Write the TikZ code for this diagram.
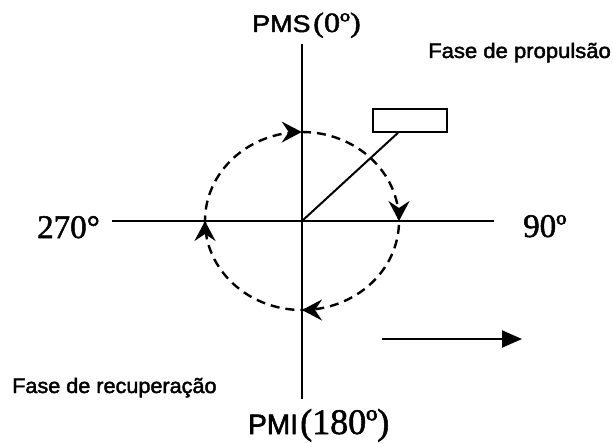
\documentclass[tikz,border=0pt]{standalone}
\usepackage{fontspec}
\setmainfont{Liberation Serif}
\setsansfont{Liberation Sans}
\newfontfamily\crkheavysans{Liberation Sans}[FakeBold=2]
\newfontfamily\crkheavyserif{Liberation Serif}[FakeBold=1.5]
\usetikzlibrary{arrows.meta,decorations.markings}
\newcommand{\crktip}{\pgfsetdash{}{0pt}\arrow{Stealth[length=20pt,width=21pt,inset=7pt]}}
\tikzset{
  crkaxis/.style={line width=2pt},
  crkorbit/.style={
    line width=2.4pt,
    dash pattern=on 9pt off 6pt,
    postaction={decorate},
    decoration={markings,
      mark=at position 0.25 with {\crktip},
      mark=at position 0.5 with {\crktip},
      mark=at position 0.75 with {\crktip},
      mark=at position 0.9995 with {\crktip}}
  },
  crkpedal/.style={
    draw,
    line width=1.6pt,
    minimum width=74pt,
    minimum height=23pt,
    inner sep=0pt
  },
  crksans/.style={font=\crkheavysans, inner sep=0pt, anchor=base west},
  crkserif/.style={font=\crkheavyserif, inner sep=0pt, anchor=base west},
  crkdir/.style={-{Triangle[length=20pt,width=17pt]},line width=2pt}
}

\begin{document}
\begin{tikzpicture}[x=1pt,y=-1pt]
  \useasboundingbox (0,0) rectangle (613,444);
  % axes of the crank
  \coordinate (o) at (302,221);
  \coordinate (west) at (112,221);
  \coordinate (east) at (494,221);
  \coordinate (north) at (302,44);
  \coordinate (south) at (302,399);
  \draw[crkaxis] (west) -- (east);
  \draw[crkaxis] (north) -- (south);
  % path of the pedal
  \coordinate (top) at (302,132);
  \draw[crkorbit] (top) arc[start angle=90,end angle=-270,x radius=97pt,y radius=89pt];
  % crank arm and pedal
  \node[crkpedal] (pedal) at (410,120.5) {};
  \draw[crkaxis] (o) -- ([xshift=-12pt]pedal.south);
  % labels
  \node[crksans,font=\crkheavysans\fontsize{24}{24}\selectfont,xscale=1.12] (pms) at (252,32) {PMS};
  \node[crkserif,font=\crkheavyserif\fontsize{28}{28}\selectfont,xscale=1.15] (pmsdeg) at (313,32) {(0º)};
  \node[crksans,font=\crkheavysans\fontsize{28}{28}\selectfont] (pmi) at (248,434) {PMI};
  \node[crkserif,font=\crkheavyserif\fontsize{36}{36}\selectfont] (pmideg) at (300,434) {(180º)};
  \node[crkserif,font=\crkheavyserif\fontsize{33}{33}\selectfont] (deg270) at (37,238) {270°};
  \node[crkserif,font=\crkheavyserif\fontsize{33}{33}\selectfont] (deg90) at (523,237) {90º};
  \node[crksans,font=\crkheavysans\fontsize{21}{21}\selectfont,xscale=1.05] (prop) at (428,58) {Fase de propulsão};
  \node[crksans,font=\crkheavysans\fontsize{21}{21}\selectfont,xscale=1.03] (recup) at (12,393) {Fase de recuperação};
  % direction of travel
  \coordinate (dirstart) at (382,339);
  \coordinate (dirend) at (522,339);
  \draw[crkdir] (dirstart) -- (dirend);
\end{tikzpicture}
\end{document}
